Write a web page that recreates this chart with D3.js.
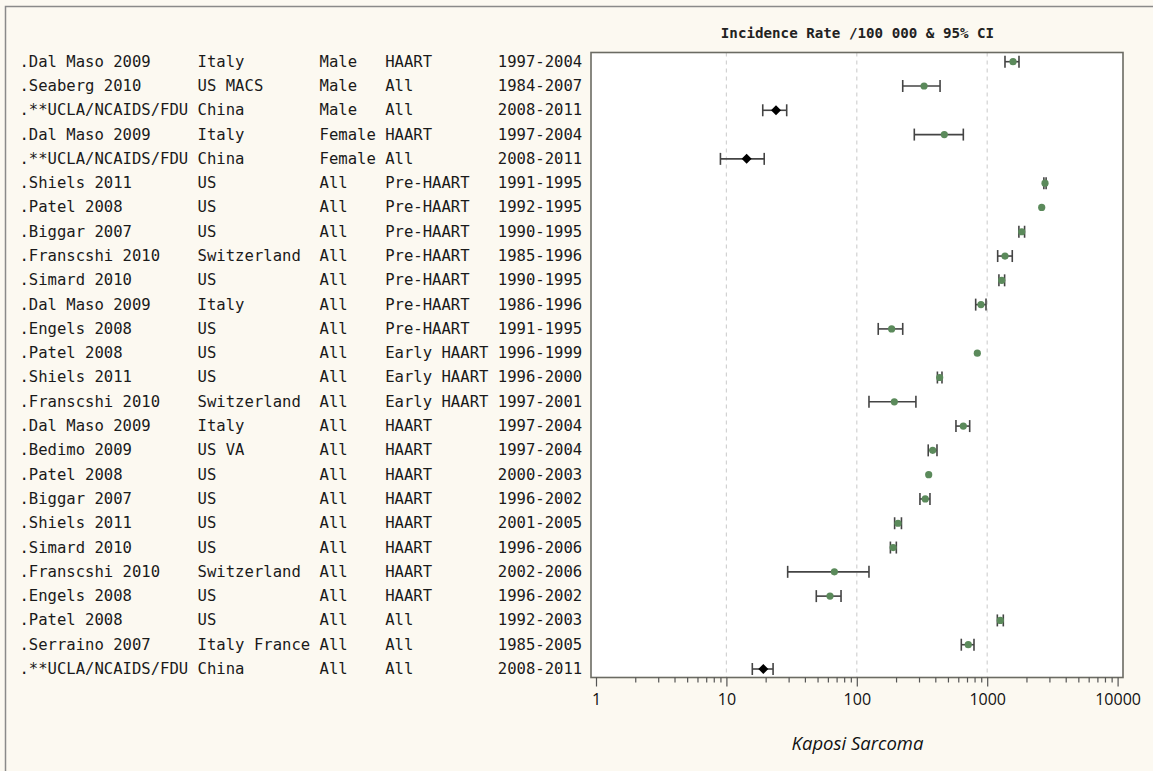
<!DOCTYPE html>
<html>
<head>
<meta charset="utf-8">
<script src="https://cdn.jsdelivr.net/npm/d3@7"></script>
<style>
  html, body { margin: 0; padding: 0; background: #fcf9f1; }
  svg { display: block; }
</style>
</head>
<body>
<svg id="chart" width="1153" height="771"></svg>
<script>
// Kaposi sarcoma incidence per 100 000 person-years, by study
const studies = [
  "Dal Maso 2009", "Seaberg 2010", "**UCLA/NCAIDS/FDU", "Dal Maso 2009", "**UCLA/NCAIDS/FDU",
  "Shiels 2011", "Patel 2008", "Biggar 2007", "Franscshi 2010", "Simard 2010",
  "Dal Maso 2009", "Engels 2008", "Patel 2008", "Shiels 2011", "Franscshi 2010",
  "Dal Maso 2009", "Bedimo 2009", "Patel 2008", "Biggar 2007", "Shiels 2011",
  "Simard 2010", "Franscshi 2010", "Engels 2008", "Patel 2008", "Serraino 2007",
  "**UCLA/NCAIDS/FDU"
];
const countries = [
  "Italy", "US MACS", "China", "Italy", "China",
  "US", "US", "US", "Switzerland", "US",
  "Italy", "US", "US", "US", "Switzerland",
  "Italy", "US VA", "US", "US", "US",
  "US", "Switzerland", "US", "US", "Italy France",
  "China"
];
const sexes = [
  "Male", "Male", "Male", "Female", "Female",
  "All", "All", "All", "All", "All",
  "All", "All", "All", "All", "All",
  "All", "All", "All", "All", "All",
  "All", "All", "All", "All", "All",
  "All"
];
const eras = [
  "HAART", "All", "All", "HAART", "All",
  "Pre-HAART", "Pre-HAART", "Pre-HAART", "Pre-HAART", "Pre-HAART",
  "Pre-HAART", "Pre-HAART", "Early HAART", "Early HAART", "Early HAART",
  "HAART", "HAART", "HAART", "HAART", "HAART",
  "HAART", "HAART", "HAART", "All", "All",
  "All"
];
const years = [
  "1997-2004", "1984-2007", "2008-2011", "1997-2004", "2008-2011",
  "1991-1995", "1992-1995", "1990-1995", "1985-1996", "1990-1995",
  "1986-1996", "1991-1995", "1996-1999", "1996-2000", "1997-2001",
  "1997-2004", "1997-2004", "2000-2003", "1996-2002", "2001-2005",
  "1996-2006", "2002-2006", "1996-2002", "1992-2003", "1985-2005",
  "2008-2011"
];
const rates = [
  1578, 328, 24.0, 469, 14.3,
  2775, 2618, 1840, 1369, 1292,
  896, 185, 840, 432, 194,
  656, 382, 356, 335, 207,
  190, 67.3, 62.3, 1260, 716,
  19.2
];
const lowerCI = [
  1369, 225, 19.0, 276, 9.0,
  2720, null, 1750, 1203, 1230,
  816, 146, null, 415, 124,
  576, 353, null, 305, 195,
  181, 29.5, 48.9, 1196, 633,
  15.8
];
const upperCI = [
  1753, 435, 29.0, 656, 19.5,
  2830, null, 1935, 1557, 1360,
  979, 225, null, 450, 284,
  734, 412, null, 364, 220,
  201, 124, 75.7, 1329, 792,
  22.8
];
const majorTicks = [1, 10, 100, 1000, 10000];
const gridTicks = [10, 100, 1000];
const headerText = "Incidence Rate /100 000 & 95% CI";
const axisTitle = "Kaposi Sarcoma";

const rows = studies.map((s, i) => ({
  study: s, country: countries[i], sex: sexes[i], era: eras[i], years: years[i],
  rate: rates[i], lo: lowerCI[i], hi: upperCI[i],
  own: s.startsWith("**")
}));

const svg = d3.select("#chart");
const W = 1153, H = 771;
const mono = "'DejaVu Sans Mono', 'Liberation Mono', monospace";
const sans = "'Open Sans', 'Noto Sans', sans-serif";

// outer frame
svg.append("rect").attr("x", 0).attr("y", 0).attr("width", W).attr("height", H)
  .attr("fill", "#fcf9f1");
svg.append("path").attr("d", `M5.5,${H} V6.5 H${W}`)
  .attr("fill", "none").attr("stroke", "#8a8a8a").attr("stroke-width", 1.5);

const plot = { left: 591, right: 1123, top: 52.5, bottom: 677.5 };

const x = d3.scaleLog().domain([1, 10000]).range([596, 1117.6]);
const y = d3.scalePoint().domain(d3.range(rows.length)).range([61.7, 669]);

// plot background
svg.append("rect")
  .attr("x", plot.left).attr("y", plot.top)
  .attr("width", plot.right - plot.left).attr("height", plot.bottom - plot.top)
  .attr("fill", "#ffffff");

// reference gridlines
svg.append("g").selectAll("line").data(gridTicks).join("line")
  .attr("x1", d => x(d)).attr("x2", d => x(d))
  .attr("y1", plot.top).attr("y2", plot.bottom)
  .attr("stroke", "#d2d2d2").attr("stroke-width", 1.2)
  .attr("stroke-dasharray", "4,4");

// header
svg.append("text")
  .attr("x", (plot.left + plot.right) / 2 + 0.5).attr("y", 33)
  .attr("text-anchor", "middle").attr("dominant-baseline", "central")
  .attr("font-family", mono)
  .attr("font-weight", "bold").attr("font-size", "14.2px").attr("fill", "#222")
  .text(headerText);

// left text columns on a fixed character grid
const cell = 9.38, x0 = 19.4;
const cols = [
  { key: d => "." + d.study, c: 0 },
  { key: d => d.country, c: 19 },
  { key: d => d.sex, c: 32 },
  { key: d => d.era, c: 39 },
  { key: d => d.years, c: 51 }
];
const labels = svg.append("g")
  .attr("font-family", mono)
  .attr("font-size", "15.58px").attr("fill", "#1a1a1a");
cols.forEach(col => {
  labels.append("g").selectAll("text").data(rows).join("text")
    .attr("x", x0 + col.c * cell)
    .attr("y", (d, i) => y(i))
    .attr("dominant-baseline", "central")
    .attr("xml:space", "preserve")
    .text(col.key);
});

// confidence intervals
const ci = svg.append("g").attr("stroke", "#444").attr("stroke-width", 1.6).attr("fill", "none");
const withCI = rows.map((d, i) => ({ ...d, i })).filter(d => d.lo != null);
ci.selectAll("line.bar").data(withCI).join("line").attr("class", "bar")
  .attr("x1", d => x(d.lo)).attr("x2", d => x(d.hi))
  .attr("y1", d => y(d.i)).attr("y2", d => y(d.i));
ci.selectAll("line.capl").data(withCI).join("line").attr("class", "capl")
  .attr("x1", d => x(d.lo)).attr("x2", d => x(d.lo))
  .attr("y1", d => y(d.i) - 6).attr("y2", d => y(d.i) + 6);
ci.selectAll("line.caph").data(withCI).join("line").attr("class", "caph")
  .attr("x1", d => x(d.hi)).attr("x2", d => x(d.hi))
  .attr("y1", d => y(d.i) - 6).attr("y2", d => y(d.i) + 6);

// point estimates
const pts = rows.map((d, i) => ({ ...d, i }));
svg.append("g").selectAll("circle").data(pts.filter(d => !d.own)).join("circle")
  .attr("cx", d => x(d.rate)).attr("cy", d => y(d.i)).attr("r", 3.6)
  .attr("fill", "#5b8a5b");
svg.append("g").selectAll("path").data(pts.filter(d => d.own)).join("path")
  .attr("transform", d => `translate(${x(d.rate)},${y(d.i)})`)
  .attr("d", "M0,-5 L5,0 L0,5 L-5,0 Z")
  .attr("fill", "#000");

// plot frame
svg.append("rect")
  .attr("x", plot.left).attr("y", plot.top)
  .attr("width", plot.right - plot.left).attr("height", plot.bottom - plot.top)
  .attr("fill", "none").attr("stroke", "#6b6b63").attr("stroke-width", 1.6);

// log axis: major and minor ticks
const minorTicks = [];
for (let e = 0; e < 4; e++) for (let m = 2; m <= 9; m++) minorTicks.push(m * Math.pow(10, e));

const axisG = svg.append("g").attr("transform", `translate(0,${plot.bottom})`);
axisG.append("g")
  .call(d3.axisBottom(x).tickValues(minorTicks).tickSize(5).tickFormat(""));
const majorAxis = axisG.append("g")
  .call(d3.axisBottom(x).tickValues(majorTicks).tickSize(9).tickPadding(7).tickFormat(d3.format("d")));
axisG.selectAll(".domain").remove();
axisG.selectAll(".tick line").attr("stroke", "#555").attr("stroke-width", 1.2);
majorAxis.selectAll(".tick text")
  .attr("font-family", sans)
  .attr("font-size", "16px").attr("fill", "#111");

// axis title
svg.append("text")
  .attr("x", (plot.left + plot.right) / 2 + 0.5).attr("y", 742)
  .attr("text-anchor", "middle").attr("dominant-baseline", "central")
  .attr("font-family", sans)
  .attr("font-style", "italic").attr("font-size", "18.5px").attr("fill", "#111")
  .text(axisTitle);
</script>
</body>
</html>
